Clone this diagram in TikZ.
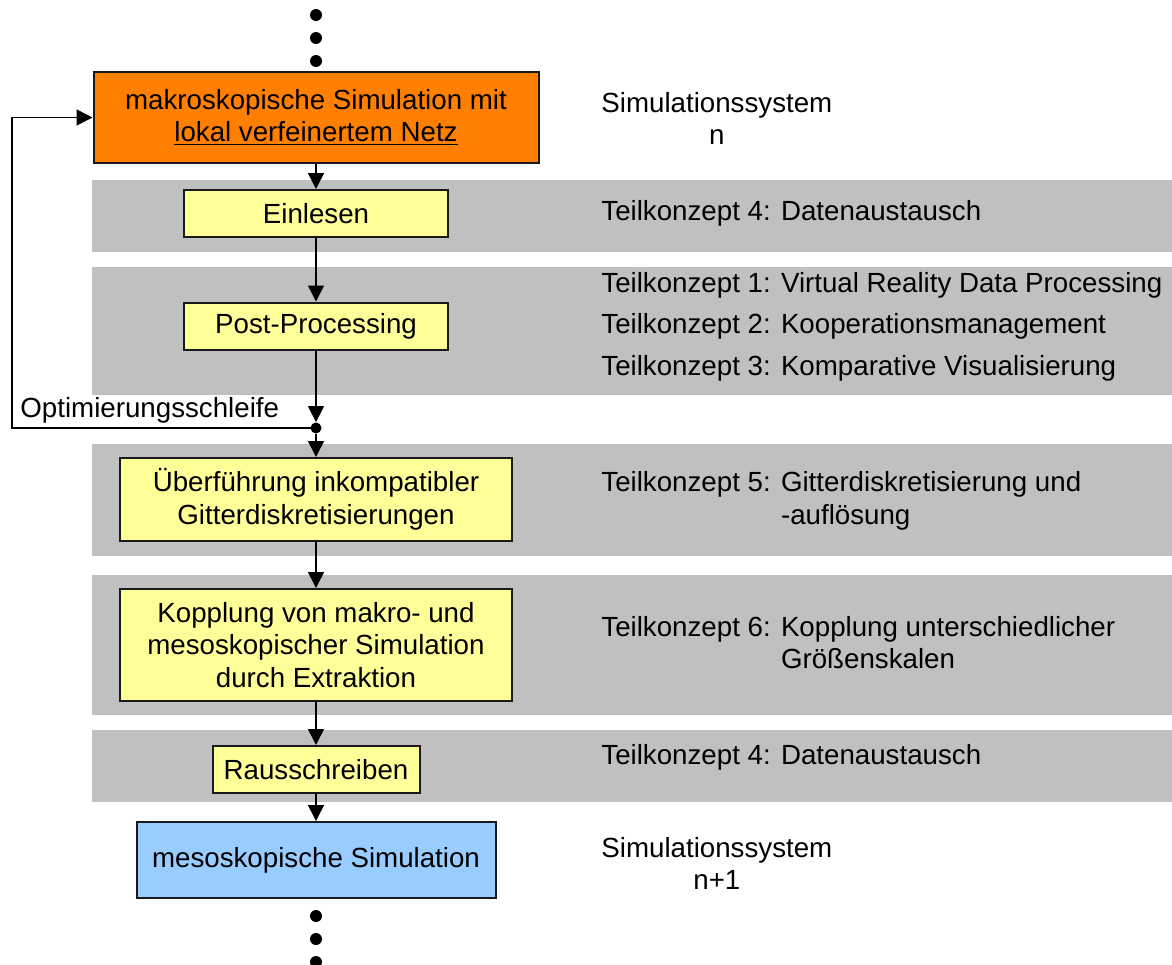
\documentclass[tikz,border=0pt]{standalone}
\usepackage{fontspec}
\setmainfont{Liberation Sans}
\usetikzlibrary{arrows.meta}

\definecolor{makroorange}{RGB}{255,128,0}
\definecolor{stepyellow}{RGB}{255,255,153}
\definecolor{mesoblue}{RGB}{153,204,255}
\definecolor{bandgray}{RGB}{192,192,192}

\begin{document}
\begin{tikzpicture}[x=0.5pt, y=-0.5pt,
    font=\fontsize{13.85}{16.4}\selectfont,
    box/.style={draw=black!90, line width=1pt, align=center, inner sep=0pt},
    stepbox/.style={box, fill=stepyellow},
    flow/.style={line width=0.75pt, -{Triangle[length=8pt, width=8pt]}},
    remark/.style={anchor=west, inner sep=0pt, align=left},
    dot/.style={circle, fill=black, inner sep=0pt, minimum size=6pt}]
            \useasboundingbox (0,0) rectangle (1172,964);

            % grey bands behind the steps
            \fill[bandgray] (92,180) rectangle (1172,252);
            \fill[bandgray] (92,267) rectangle (1172,395);
            \fill[bandgray] (92,444) rectangle (1172,556);
            \fill[bandgray] (92,575) rectangle (1172,715);
            \fill[bandgray] (92,730) rectangle (1172,802);

            % dots above and below
            \foreach \y [count=\i] in {15,38,61} {
                \node[dot] (top\i) at (316,\y) {};
            }
            \foreach \y [count=\i] in {916,939,962} {
                \node[dot] (bot\i) at (316,\y) {};
            }

            % the steps
            \node[box, fill=makroorange, minimum width=222.5pt, minimum height=45.5pt] (makro) at (316,117.5)
                {makroskopische Simulation mit\\\underline{lokal verfeinertem Netz}};
            \node[stepbox, minimum width=132pt, minimum height=23.5pt] (einlesen) at (316,213.5) {Einlesen};
            \node[stepbox, minimum width=132pt, minimum height=23.5pt] (post) at (316,326) {Post-Processing};
            \node[stepbox, minimum width=196pt, minimum height=41.5pt] (ueber) at (316,499.5)
                {Überführung inkompatibler\\Gitterdiskretisierungen};
            \node[stepbox, minimum width=196pt, minimum height=56pt] (kopplung) at (316,645)
                {Kopplung von makro- und\\mesoskopischer Simulation\\durch Extraktion};
            \node[stepbox, minimum width=103.5pt, minimum height=23.5pt] (raus) at (316,769.5) {Rausschreiben};
            \node[box, fill=mesoblue, minimum width=179.5pt, minimum height=38pt] (meso) at (316,860)
                {mesoskopische Simulation};

            % optimisation loop
            \node[dot, minimum size=5.5pt] (junc) at (316,428) {};
            \coordinate (loopcorner) at (12,428);
            \node[remark] (schleife) at (20,410) {Optimierungsschleife};

            % remarks on the right
            \node[remark, align=center] (sysn) at (601,118.5) {Simulationssystem\\n};
            \node[remark] (tk4a) at (601,213) {Teilkonzept 4: Datenaustausch};
            \node[remark] (tk1) at (601,285) {Teilkonzept 1: Virtual Reality Data Processing};
            \node[remark] (tk2) at (601,326) {Teilkonzept 2: Kooperationsmanagement};
            \node[remark] (tk3) at (601,368) {Teilkonzept 3: Komparative Visualisierung};
            \node[remark] (tk5) at (601,501.5)
                {\begin{tabular}{@{}l@{ }l@{}}Teilkonzept 5:&Gitterdiskretisierung und\\&-auflösung\end{tabular}};
            \node[remark] (tk6) at (601,646)
                {\begin{tabular}{@{}l@{ }l@{}}Teilkonzept 6:&Kopplung unterschiedlicher\\&Größenskalen\end{tabular}};
            \node[remark] (tk4b) at (601,757) {Teilkonzept 4: Datenaustausch};
            \node[remark, align=center] (sysn1) at (601,863.5) {Simulationssystem\\n+1};

            % connectors
            \draw[flow] (makro) -- (einlesen);
            \draw[flow] (einlesen) -- (post);
            \draw[flow] (post) -- (junc);
            \draw[flow] (junc) -- (ueber);
            \draw[flow] (ueber) -- (kopplung);
            \draw[flow] (kopplung) -- (raus);
            \draw[flow] (raus) -- (meso);
            \draw[flow] (junc.center) -- (loopcorner) |- (makro.west);
        \end{tikzpicture}
\end{document}
